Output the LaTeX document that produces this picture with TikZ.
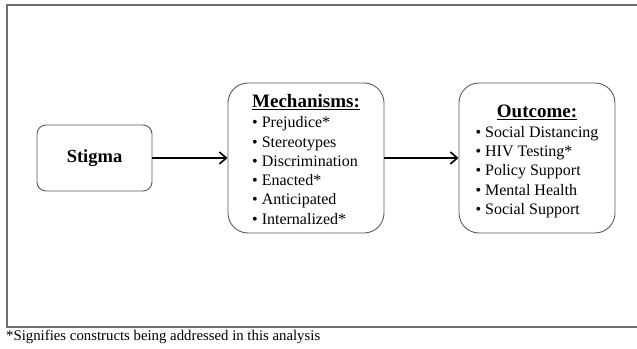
\documentclass[tikz,border=0pt]{standalone}
\usepackage{fontspec}
\setmainfont{Liberation Serif}
\usetikzlibrary{arrows.meta}
\definecolor{frameGray}{RGB}{110, 110, 110}
\definecolor{boxGray}{RGB}{90, 90, 90}

\begin{document}
\begin{tikzpicture}[x=1pt, y=-1pt,
    box/.style={draw=boxGray, line width=0.9pt, fill=white, align=center},
    link/.style={line width=1.8pt, -{Straight Barb[length=7pt, width=12pt, line width=1.6pt]}}]
        \useasboundingbox (0,0) rectangle (637,348);
        \draw[frameGray, line width=2pt] (637,5) -- (7,5) -- (7,327) -- (637,327);

        \node[box, rounded corners=9pt, minimum width=115pt, minimum height=66pt] (stigma) at (94.5,158)
            {\fontsize{18.5}{20}\selectfont\bfseries Stigma};

        % extra rule height in the title row moves the list down a little
        \node[box, rounded corners=20pt, minimum width=156pt, minimum height=150pt, inner sep=0pt] (mech) at (306,158)
            {\fontsize{16}{19.3}\selectfont
             \begin{tabular}{@{}l@{}}
               \multicolumn{1}{@{}c@{}}{\rule{0pt}{22pt}\fontsize{19}{19.3}\selectfont\bfseries\underline{Mechanisms:}}\\[0.5pt]
               \textbullet{} Prejudice*\\
               \textbullet{} Stereotypes\\
               \textbullet{} Discrimination\\
               \textbullet{} Enacted*\\
               \textbullet{} Anticipated\\
               \textbullet{} Internalized*
             \end{tabular}};

        \node[box, rounded corners=20pt, minimum width=156pt, minimum height=150pt, inner sep=0pt] (outcome) at (537,158)
            {\fontsize{16}{19.3}\selectfont
             \begin{tabular}{@{}l@{}}
               \multicolumn{1}{@{}c@{}}{\rule{0pt}{22pt}\fontsize{19}{19.3}\selectfont\bfseries\underline{Outcome:}}\\
               \textbullet{} Social Distancing\\
               \textbullet{} HIV Testing*\\
               \textbullet{} Policy Support\\
               \textbullet{} Mental Health\\
               \textbullet{} Social Support
             \end{tabular}};

        \draw[link] (stigma) -- (mech);
        \draw[link] (mech) -- (outcome);

        \node[anchor=west, inner sep=0pt, font=\fontsize{14.8}{16}\selectfont] (note) at (6,337)
            {*Signifies constructs being addressed in this analysis};
      \end{tikzpicture}
\end{document}
